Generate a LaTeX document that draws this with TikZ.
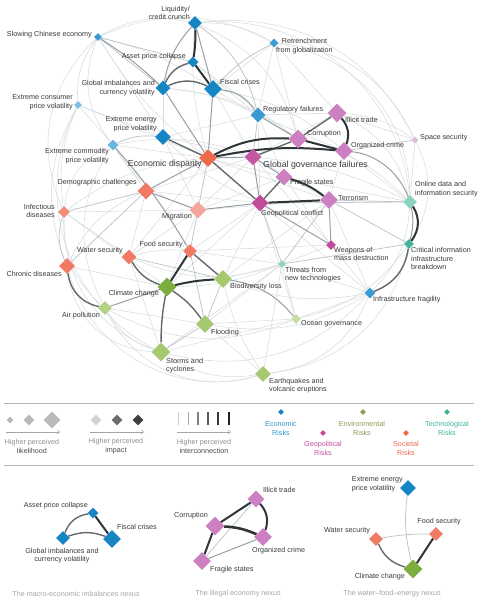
\documentclass[tikz,border=0pt]{standalone}
\usepackage{fontspec}
\setmainfont{Liberation Sans}
\usetikzlibrary{shapes.geometric,backgrounds,arrows.meta}
\definecolor{txt}{HTML}{3A3A3A}
\definecolor{ecoD}{HTML}{1685C4}
\definecolor{ecoM}{HTML}{3A9BD0}
\definecolor{ecoL}{HTML}{7CC0E0}
\definecolor{geoD}{HTML}{C24A9B}
\definecolor{geoM}{HTML}{CD80C1}
\definecolor{geoL}{HTML}{E2BADB}
\definecolor{socD}{HTML}{EC6A45}
\definecolor{socM}{HTML}{F07A63}
\definecolor{socL}{HTML}{F4A59D}
\definecolor{envD}{HTML}{7BAE3E}
\definecolor{envM}{HTML}{A6C970}
\definecolor{envL}{HTML}{C6DCA3}
\definecolor{tecD}{HTML}{45B39C}
\definecolor{tecM}{HTML}{8DD2BE}
\definecolor{ed1}{HTML}{D6DCDF}
\definecolor{ed2}{HTML}{BCC5C9}
\definecolor{ed3}{HTML}{959FA4}
\definecolor{ed4}{HTML}{62696D}
\definecolor{ed5}{HTML}{2F3437}
\definecolor{rule}{HTML}{B4B4B4}
\definecolor{cap}{HTML}{A4A4A4}
\definecolor{leggray}{HTML}{8E8E8E}
\definecolor{legdark}{HTML}{4C4C4C}
\definecolor{catEco}{HTML}{2A95C8}
\definecolor{catGeo}{HTML}{C04C9C}
\definecolor{catEnv}{HTML}{8C9A52}
\definecolor{catSoc}{HTML}{E86A4A}
\definecolor{catTec}{HTML}{3AB4A0}
\begin{document}
\begin{tikzpicture}[x=1pt,y=-1pt,
  dm/.style={diamond,inner sep=0pt,minimum size=#1},
  lab/.style={font=\fontsize{7.2}{8.7}\selectfont,text=txt,inner sep=0pt},
  biglab/.style={font=\fontsize{8.8}{10}\selectfont,text=txt,inner sep=0pt},
  caplab/.style={font=\fontsize{7.2}{8.7}\selectfont,text=cap,inner sep=0pt},
  leglab/.style={font=\fontsize{7.2}{8.9}\selectfont,text=leggray,inner sep=0pt,align=center},
  e1/.style={draw=ed1,line width=0.55pt},
  e2/.style={draw=ed2,line width=0.75pt},
  e3/.style={draw=ed3,line width=1pt},
  e4/.style={draw=ed4,line width=1.4pt},
  e5/.style={draw=ed5,line width=2pt},
  legarrow/.style={draw=leggray!80,line width=0.5pt,-{Straight Barb[length=2.5pt,width=4pt]}}
]
\useasboundingbox (0,0) rectangle (486,600);

% ---------------- main network nodes ----------------
\node[dm=14,fill=ecoD] (liq) at (195,23) {};
\node[dm=8,fill=ecoM] (chi) at (98,37) {};
\node[dm=11,fill=ecoD] (asset) at (193,62) {};
\node[dm=15,fill=ecoD] (gimb) at (163,88) {};
\node[dm=18,fill=ecoD] (fisc) at (213,89) {};
\node[dm=9,fill=ecoM] (retr) at (274,43) {};
\node[dm=8,fill=ecoL] (cons) at (78,105) {};
\node[dm=15,fill=ecoM] (reg) at (258,115) {};
\node[dm=16,fill=ecoD] (ener) at (163,137) {};
\node[dm=11,fill=ecoL!70!ecoM] (comm) at (113,145) {};
\node[dm=18,fill=socD] (econ) at (208,158) {};
\node[dm=17,fill=socM] (demo) at (146,191) {};
\node[dm=12,fill=socM!60!socL] (infe) at (64,212) {};
\node[dm=17,fill=socL] (migr) at (198,210) {};
\node[dm=14,fill=socM] (food) at (190,251) {};
\node[dm=15,fill=socM] (water) at (129,257) {};
\node[dm=16,fill=socM] (chro) at (67,266) {};
\node[dm=19,fill=envD] (clim) at (167,287) {};
\node[dm=18,fill=envM] (bio) at (223,279) {};
\node[dm=14,fill=envM!60!envL] (air) at (105,308) {};
\node[dm=18,fill=envM] (flood) at (205,324) {};
\node[dm=19,fill=envM] (storm) at (161,352) {};
\node[dm=10,fill=envL] (ocean) at (296,319) {};
\node[dm=16,fill=envM] (earth) at (263,374) {};
\node[dm=8,fill=tecM] (threat) at (282,264) {};
\node[dm=11,fill=ecoM] (infra) at (370,293) {};
\node[dm=10,fill=geoD] (wmd) at (331,245) {};
\node[dm=10,fill=tecD] (crit) at (409,244) {};
\node[dm=14,fill=tecM] (online) at (410,202) {};
\node[dm=18,fill=geoM] (terr) at (329,200) {};
\node[dm=17,fill=geoD] (geo) at (260,203) {};
\node[dm=17,fill=geoM] (frag) at (284,177) {};
\node[dm=17,fill=geoD!75!geoM] (ggf) at (253,157) {};
\node[dm=19,fill=geoM] (corr) at (298,139) {};
\node[dm=18,fill=geoM] (org) at (344,151) {};
\node[dm=19,fill=geoM] (illi) at (337,113) {};
\node[dm=7,fill=geoL] (space) at (415,140) {};

% ---------------- main network labels ----------------
\node[lab,anchor=east,align=right] (liqL) at (190,13) {Liquidity/\\credit crunch};
\node[lab,anchor=east] (chiL) at (92,35) {Slowing Chinese economy};
\node[lab,anchor=east] (assetL) at (186,57) {Asset price collapse};
\node[lab,anchor=east,align=right] (gimbL) at (155,88) {Global imbalances and\\currency volatility};
\node[lab,anchor=west] (fiscL) at (220,82) {Fiscal crises};
\node[lab,anchor=west,align=center] (retrL) at (276,46) {Retrenchment\\from globalization};
\node[lab,anchor=east,align=right] (consL) at (73,102) {Extreme consumer\\price volatility};
\node[lab,anchor=west] (regL) at (263,110) {Regulatory failures};
\node[lab,anchor=east,align=right] (enerL) at (157,124) {Extreme energy\\price volatility};
\node[lab,anchor=east,align=right] (commL) at (109,156) {Extreme commodity\\price volatility};
\node[biglab,anchor=east] (econL) at (202,164) {Economic disparity};
\node[lab,anchor=east] (demoL) at (137,183) {Demographic challenges};
\node[lab,anchor=east,align=right] (infeL) at (55,211) {Infectious\\diseases};
\node[lab,anchor=east] (migrL) at (192,217) {Migration};
\node[lab,anchor=east] (foodL) at (183,245) {Food security};
\node[lab,anchor=east] (waterL) at (123,251) {Water security};
\node[lab,anchor=east] (chroL) at (62,274) {Chronic diseases};
\node[lab,anchor=east] (climL) at (159,294) {Climate change};
\node[lab,anchor=west] (bioL) at (230,287) {Biodiversity loss};
\node[lab,anchor=east] (airL) at (100,316) {Air pollution};
\node[lab,anchor=west] (floodL) at (211,333) {Flooding};
\node[lab,anchor=west,align=left] (stormL) at (166,365.5) {Storms and\\cyclones};
\node[lab,anchor=west] (oceanL) at (301,324) {Ocean governance};
\node[lab,anchor=west,align=left] (earthL) at (269,385.5) {Earthquakes and\\volcanic eruptions};
\node[lab,anchor=west,align=left] (threatL) at (285,274.5) {Threats from\\new technologies};
\node[lab,anchor=west] (infraL) at (373,300) {Infrastructure fragility};
\node[lab,anchor=west,align=left] (wmdL) at (334,254) {Weapons of\\mass destruction};
\node[lab,anchor=west,align=left] (critL) at (411,258.5) {Critical information\\infrastructure\\breakdown};
\node[lab,anchor=west,align=left] (onlineL) at (415,189) {Online data and\\information security};
\node[lab,anchor=west] (terrL) at (338,198) {Terrorism};
\node[lab,anchor=west] (geoL) at (261,214) {Geopolitical conflict};
\node[lab,anchor=west] (fragL) at (290,183) {Fragile states};
\node[biglab,anchor=west] (ggfL) at (263,165) {Global governance failures};
\node[lab,anchor=west] (corrL) at (307,134) {Corruption};
\node[lab,anchor=west] (orgL) at (351,146) {Organized crime};
\node[lab,anchor=west] (illiL) at (345,120) {Illicit trade};
\node[lab,anchor=west] (spaceL) at (420,138) {Space security};

% ---------------- main network connectors ----------------
\begin{scope}[on background layer]
% faint background web
\draw[e1] (chi) to[bend left=25] (retr);
\draw[e1] (liq) to[bend left=15] (retr);
\draw[e1] (chi) to[bend left=10] (fisc);
\draw[e1] (cons) to[bend right=25] (chro);
\draw[e1] (cons) to[bend right=15] (infe);
\draw[e1] (cons) to[bend right=45] (storm);
\draw[e1] (comm) to[bend right=30] (air);
\draw[e1] (chro) to[bend right=40] (storm);
\draw[e1] (chro) to[bend right=45] (earth);
\draw[e1] (air) to[bend right=40] (earth);
\draw[e1] (storm) to[bend right=30] (infra);
\draw[e1] (earth) to[bend right=30] (infra);
\draw[e1] (earth) to[bend right=35] (crit);
\draw[e1] (ocean) to[bend right=20] (crit);
\draw[e1] (infe) to[bend right=35] (storm);
\draw[e1] (retr) to[bend left=30] (space);
\draw[e1] (retr) to[bend left=40] (online);
\draw[e1] (liq) to[bend left=35] (space);
\draw[e1] (illi) to[bend left=25] (online);
\draw[e1] (space) to[bend left=30] (crit);
\draw[e1] (fisc) to (retr);
\draw[e1] (retr) to (reg);
\draw[e1] (chi) to (ener);
\draw[e1] (chi) to[bend right=10] (econ);
\draw[e1] (cons) to (ener);
\draw[e1] (cons) to (comm);
\draw[e1] (comm) to (demo);
\draw[e1] (infe) to (migr);
\draw[e1] (water) to[bend right=20] (threat);
\draw[e1] (air) to[bend right=25] (ocean);
\draw[e1] (bio) to[bend right=15] (infra);
\draw[e1] (flood) to[bend right=20] (infra);
\draw[e1] (storm) to (ocean);
\draw[e1] (flood) to (earth);
\draw[e1] (clim) to[bend right=10] (threat);
\draw[e1] (terr) to (infra);
\draw[e1] (wmd) to (infra);
\draw[e1] (wmd) to (threat);
\draw[e1] (geo) to (infra);
\draw[e1] (ggf) to[bend left=10] (online);
\draw[e1] (frag) to (online);
\draw[e1] (corr) to[bend left=15] (online);
\draw[e1] (econ) to (terr);
\draw[e1] (econ) to (frag);
\draw[e1] (econ) to[bend right=15] (infe);
\draw[e1] (econ) to (water);
\draw[e1] (demo) to (water);
\draw[e1] (infe) to (water);
\draw[e1] (liq) to[bend right=10] (econ);
\draw[e1] (liq) to[bend left=25] (corr);
\draw[e1] (asset) to (reg);
\draw[e1] (fisc) to (ggf);
\draw[e1] (fisc) to (corr);
\draw[e1] (gimb) to[bend left=10] (reg);
\draw[e1] (ener) to (migr);
\draw[e1] (ener) to[bend right=10] (geo);
\draw[e1] (comm) to (econ);
\draw[e1] (migr) to (terr);
\draw[e1] (migr) to (clim);
\draw[e1] (migr) to (frag);
\draw[e1] (food) to (threat);
\draw[e1] (food) to (geo);
\draw[e1] (bio) to (threat);
\draw[e1] (bio) to (geo);
\draw[e1] (water) to[bend left=10] (food);
\draw[e1] (infe) to (clim);
\draw[e1] (cons) to (econ);
\draw[e1] (chro) to[bend left=20] (demo);
\draw[e1] (infe) to[bend left=30] (comm);
\draw[e1] (storm) to[bend right=20] (earth);
\draw[e1] (threat) to (infra);
\draw[e1] (air) to (flood);
\draw[e1] (water) to (storm);
\draw[e1] (ener) to (reg);
\draw[e1] (comm) to[bend right=20] (migr);
\draw[e1] (gimb) to (ener);
\draw[e1] (reg) to (frag);
\draw[e1] (illi) to (ggf);
\draw[e1] (reg) to (illi);
\draw[e1] (chi) to[bend right=20] (cons);
\draw[e1] (chi) to[bend right=30] (comm);
\draw[e1] (chi) to[bend right=35] (infe);
\draw[e1] (liq) to[bend right=20] (chi);
\draw[e1] (liq) to[bend left=45] (online);
\draw[e1] (retr) to (illi);
\draw[e1] (retr) to (corr);
\draw[e1] (space) to (online);
\draw[e1] (space) to[bend right=15] (illi);
\draw[e1] (online) to[bend left=20] (infra);
\draw[e1] (ocean) to (infra);
\draw[e1] (air) to[bend right=20] (storm);
\draw[e1] (chro) to (clim);
\draw[e1] (infe) to[bend right=25] (air);
\draw[e1] (storm) to (threat);
\draw[e1] (earth) to (threat);
\draw[e1] (earth) to[bend left=10] (bio);
\draw[e1] (ocean) to (threat);
\draw[e1] (ocean) to (geo);
\draw[e1] (flood) to (ocean);
\draw[e1] (flood) to (threat);
\draw[e1] (bio) to (terr);
\draw[e1] (clim) to (geo);
\draw[e1] (food) to (wmd);
\draw[e1] (water) to (migr);
\draw[e1] (demo) to (geo);
\draw[e1] (demo) to (ggf);
\draw[e1] (migr) to (ggf);
\draw[e1] (ener) to (ggf);
\draw[e1] (comm) to[bend left=15] (ggf);
\draw[e1] (gimb) to[bend left=15] (corr);
\draw[e1] (asset) to (corr);
\draw[e1] (fisc) to[bend left=15] (org);
\draw[e1] (reg) to (org);
\draw[e1] (reg) to (geo);
\draw[e1] (org) to (terr);
\draw[e1] (org) to (online);
\draw[e1] (illi) to (space);
\draw[e1] (frag) to (wmd);
\draw[e1] (ggf) to (terr);
\draw[e1] (ggf) to (wmd);
% light connectors
\draw[e2] (ener) to[bend right=15] (comm);
\draw[e2] (reg) to (ggf);
\draw[e2] (econ) to (migr);
\draw[e2] (org) to (space);
\draw[e2] (terr) to (online);
\draw[e2] (water) to (bio);
\draw[e2] (food) to (flood);
\draw[e2] (migr) to (food);
\draw[e2] (demo) to (chro);
\draw[e2] (infe) to[bend right=20] (chro);
\draw[e2] (storm) to (flood);
\draw[e2] (threat) to (geo);
\draw[e2] (threat) to (crit);
\draw[e2] (terr) to (crit);
\draw[e2] (chi) to (gimb);
\draw[e2] (retr) to[bend right=10] (fisc);
\draw[e2] (liq) to[bend left=20] (reg);
\draw[e2] (chi) to (asset);
\draw[e2] (infe) to (demo);
\draw[e2] (bio) to (flood);
\draw[e2] (geo) to (online);
\draw[e2] (threat) to (terr);
% medium connectors
\draw[e3] (liq) to[bend right=15] (gimb);
\draw[e3] (liq) to (fisc);
\draw[e3] (gimb) to (econ);
\draw[e3] (fisc) to[bend left=25] (reg);
\draw[e3] (fisc) to (econ);
\draw[e3] (reg) to (corr);
\draw[e3] (econ) to (ggf);
\draw[e3] (econ) to (demo);
\draw[e3] (ggf) to (frag);
\draw[e3] (ggf) to (geo);
\draw[e3] (terr) to (wmd);
\draw[e3] (geo) to (wmd);
\draw[e3] (migr) to (geo);
\draw[e3] (demo) to (migr);
\draw[e3] (org) to[bend left=50] (crit);
\draw[e3] (air) to (clim);
\draw[e3] (bio) to[bend left=20] (ocean);
\draw[e3] (comm) to[bend left=5] (food);
\draw[e3] (chi) to[bend left=5] (gimb);
% dark connectors
\draw[e4] (asset) to[bend right=25] (gimb);
\draw[e4] (gimb) to[bend left=25] (fisc);
\draw[e4] (ener) to (econ);
\draw[e4] (econ) to (geo);
\draw[e4] (corr) to (illi);
\draw[e4] (ggf) to (corr);
\draw[e4] (frag) to (geo);
\draw[e4] (crit) to[bend left=30] (infra);
\draw[e4] (food) to (bio);
\draw[e4] (water) to[bend right=20] (clim);
\draw[e4] (clim) to[bend left=10] (flood);
\draw[e4] (clim) to[bend right=5] (storm);
\draw[e4] (chro) to[bend right=35] (air);
% strongest connectors
\draw[e5] (liq) to[bend left=5] (asset);
\draw[e5] (asset) to (fisc);
\draw[e5] (econ) to[bend left=15] (corr);
\draw[e5] (econ) to[bend left=8] (org);
\draw[e5] (illi) to[bend left=30] (org);
\draw[e5] (corr) to (org);
\draw[e5] (frag) to[bend left=10] (terr);
\draw[e5] (geo) to (terr);
\draw[e5] (online) to[bend left=35] (crit);
\draw[e5] (food) to (clim);
\draw[e5] (clim) to[bend left=5] (bio);
\end{scope}

% ---------------- legend ----------------
\coordinate (ruleA1) at (4,403);
\coordinate (ruleA2) at (474,403);
\coordinate (ruleB1) at (4,465);
\coordinate (ruleB2) at (474,465);
\draw[rule,line width=0.6pt] (ruleA1) -- (ruleA2);
\draw[rule,line width=0.6pt] (ruleB1) -- (ruleB2);

\node[dm=7,fill=gray!55] (lk1) at (10,420) {};
\node[dm=11,fill=gray!55] (lk2) at (29,420) {};
\node[dm=17,fill=gray!55] (lk3) at (52,420) {};
\coordinate (lkA) at (6,432);
\coordinate (lkB) at (60,432);
\draw[legarrow] (lkA) -- (lkB);
\node[leglab] (lkL) at (32,446) {Higher perceived\\\textcolor{legdark}{likelihood}};

\node[dm=11,fill=gray!35] (im1) at (96,420) {};
\node[dm=11,fill=gray!85!black] (im2) at (117,420) {};
\node[dm=11,fill=black!75] (im3) at (138,420) {};
\coordinate (imA) at (90,432);
\coordinate (imB) at (144,432);
\draw[legarrow] (imA) -- (imB);
\node[leglab] (imL) at (116,446) {Higher perceived\\\textcolor{legdark}{impact}};

\foreach \i/\xx/\w/\c in {1/178/0.5/20,2/188/0.8/35,3/198/1.1/50,4/208/1.5/65,5/218/2/78,6/229/2.5/88}{
  \coordinate (barT\i) at (\xx,412);
  \coordinate (barB\i) at (\xx,425);
  \draw[line width=\w pt,draw=black!\c] (barT\i) -- (barB\i);
}
\coordinate (icA) at (177,432);
\coordinate (icB) at (231,432);
\draw[legarrow] (icA) -- (icB);
\node[leglab] (icL) at (204,446) {Higher perceived\\\textcolor{legdark}{interconnection}};

\node[dm=6,fill=ecoD] (cEco) at (281,412) {};
\node[leglab,text=catEco] (cEcoL) at (281,428.5) {Economic\\Risks};
\node[dm=6,fill=geoD] (cGeo) at (323,433) {};
\node[leglab,text=catGeo] (cGeoL) at (323,448.5) {Geopolitical\\Risks};
\node[dm=6,fill=catEnv] (cEnv) at (363,412) {};
\node[leglab,text=catEnv] (cEnvL) at (362,428.5) {Environmental\\Risks};
\node[dm=6,fill=socD] (cSoc) at (406,433) {};
\node[leglab,text=catSoc] (cSocL) at (406,448.5) {Societal\\Risks};
\node[dm=6,fill=tecD] (cTec) at (447,412) {};
\node[leglab,text=catTec] (cTecL) at (447,428.5) {Technological\\Risks};

% ---------------- nexus 1: macro-economic ----------------
\node[dm=11,fill=ecoD] (masset) at (93,513) {};
\node[dm=18,fill=ecoD] (mfisc) at (112,539) {};
\node[dm=14,fill=ecoD] (mgimb) at (63,538) {};
\node[lab,anchor=east] (massetL) at (88,506) {Asset price collapse};
\node[lab,anchor=west] (mfiscL) at (117,527) {Fiscal crises};
\node[lab,align=center] (mgimbL) at (62,555.5) {Global imbalances and\\currency volatility};
\begin{scope}[on background layer]
\draw[e5] (masset) to (mfisc);
\draw[e4] (mgimb) to[bend left=30] (masset);
\draw[e4] (mgimb) to[bend left=20] (mfisc);
\end{scope}
\node[caplab] (cap1) at (76,594) {The macro-economic imbalances nexus};

% ---------------- nexus 2: illegal economy ----------------
\node[dm=19,fill=geoM] (icorr) at (215,526) {};
\node[dm=17,fill=geoM] (iilli) at (256,499) {};
\node[dm=18,fill=geoM] (iorg) at (263,537) {};
\node[dm=18,fill=geoM] (ifrag) at (202,561) {};
\node[lab,anchor=east] (icorrL) at (208,516) {Corruption};
\node[lab,anchor=west] (iilliL) at (263,490) {Illicit trade};
\node[lab,anchor=west] (iorgL) at (252,551) {Organized crime};
\node[lab,anchor=west] (ifragL) at (210,570) {Fragile states};
\begin{scope}[on background layer]
\draw[e2] (ifrag) to (iilli);
\draw[e3] (ifrag) to (iorg);
\draw[e5] (icorr) to (iilli);
\draw[e5,line width=2.6pt] (icorr) to[bend left=10] (iorg);
\draw[e5] (iilli) to[bend left=30] (iorg);
\draw[e5] (icorr) to (ifrag);
\end{scope}
\node[caplab] (cap2) at (238,594) {The illegal economy nexus};

% ---------------- nexus 3: water-food-energy ----------------
\node[dm=16,fill=ecoD] (wener) at (408,488) {};
\node[dm=14,fill=socM] (wfood) at (436,534) {};
\node[dm=14,fill=socM] (wwater) at (376,539) {};
\node[dm=19,fill=envD] (wclim) at (413,569) {};
\node[lab,anchor=east,align=left] (wenerL) at (403,484.5) {Extreme energy\\price volatility};
\node[lab] (wfoodL) at (439,522) {Food security};
\node[lab] (wwaterL) at (347,531) {Water security};
\node[lab,anchor=east] (wclimL) at (405,577) {Climate change};
\begin{scope}[on background layer]
\draw[e2] (wener) to[bend right=10] (wclim);
\draw[e2] (wwater) to[bend left=5] (wfood);
\draw[e4] (wwater) to[bend right=25] (wclim);
\draw[e5] (wfood) to (wclim);
\end{scope}
\node[caplab] (cap3) at (392,594) {The water–food–energy nexus};
\end{tikzpicture}
\end{document}
